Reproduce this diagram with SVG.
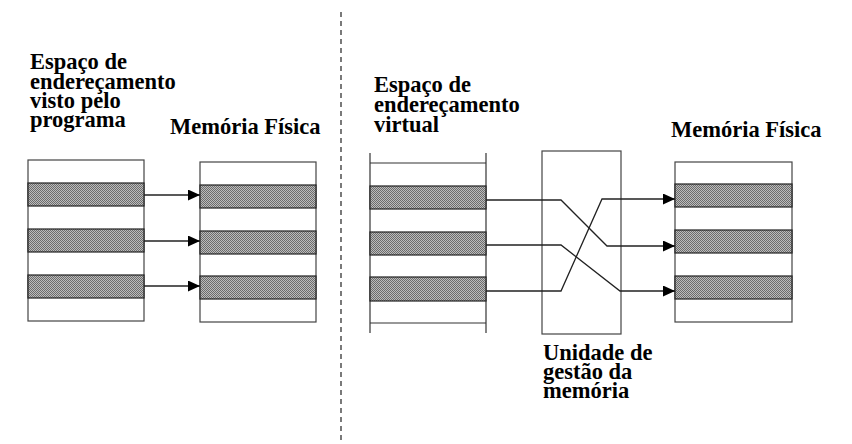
<svg xmlns="http://www.w3.org/2000/svg" width="852" height="444" viewBox="0 0 852 444">
<style>
.t{font-family:'Liberation Serif','Times New Roman','DejaVu Serif','Noto Serif',serif;font-weight:700;font-size:22.5px;fill:#000}
.box{fill:#fff;stroke:#444;stroke-width:1.2}
.band{fill:url(#dots);stroke:#222;stroke-width:1.2}
.ln{stroke:#333;stroke-width:1.2;fill:none}
.conn{stroke:#222;stroke-width:1.3;fill:none}
</style>
<defs>
<pattern id="dots" width="2" height="2" patternUnits="userSpaceOnUse">
<rect width="2" height="2" fill="#bcbcbc"/>
<rect width="1" height="1" fill="#6c6c6c"/>
<rect x="1" y="1" width="1" height="1" fill="#6c6c6c"/>
</pattern>
<marker id="arr" markerUnits="userSpaceOnUse" markerWidth="13" markerHeight="12" refX="12" refY="5.5" orient="auto">
<path d="M0,0 L12,5.5 L0,11 z" fill="#000"/>
</marker>
</defs>
<rect width="852" height="444" fill="#fff"/>
<line x1="341" y1="12" x2="341" y2="444" stroke="#333" stroke-width="1.3" stroke-dasharray="5,4"/>

<g id="label-programa">
<text class="t" x="30" y="69">Espaço de</text>
<text class="t" x="30" y="88.5">endereçamento</text>
<text class="t" x="30" y="108">visto pelo</text>
<text class="t" x="30" y="127">programa</text>
</g>
<g id="label-memoria-1"><text class="t" x="170" y="134">Memória Física</text></g>
<g id="label-virtual">
<text class="t" x="374" y="92">Espaço de</text>
<text class="t" x="374" y="112">endereçamento</text>
<text class="t" x="374" y="132">virtual</text>
</g>
<g id="label-memoria-2"><text class="t" x="671" y="136.5">Memória Física</text></g>
<g id="label-mmu">
<text class="t" x="543" y="360">Unidade de</text>
<text class="t" x="543" y="379">gestão da</text>
<text class="t" x="543" y="398">memória</text>
</g>

<g id="espaco-programa">
<rect class="box" x="28" y="160" width="116" height="161"/>
<rect class="band" x="28" y="183" width="116" height="23"/>
<rect class="band" x="28" y="229" width="116" height="23"/>
<rect class="band" x="28" y="275" width="116" height="23"/>
</g>
<g id="memoria-fisica-1">
<rect class="box" x="200" y="162" width="116" height="160"/>
<rect class="band" x="200" y="185" width="116" height="23"/>
<rect class="band" x="200" y="231" width="116" height="23"/>
<rect class="band" x="200" y="276" width="116" height="23"/>
</g>
<g id="espaco-virtual">
<rect x="370" y="163" width="116" height="160" fill="#fff"/>
<line class="ln" x1="370" y1="153" x2="370" y2="333"/>
<line class="ln" x1="486" y1="153" x2="486" y2="333"/>
<line class="ln" x1="370" y1="163" x2="486" y2="163"/>
<line class="ln" x1="370" y1="323" x2="486" y2="323"/>
<rect class="band" x="370" y="186" width="116" height="23"/>
<rect class="band" x="370" y="232" width="116" height="23"/>
<rect class="band" x="370" y="277" width="116" height="24"/>
</g>
<g id="mmu">
<rect class="box" x="542" y="151" width="79" height="183"/>
</g>
<g id="memoria-fisica-2">
<rect class="box" x="675" y="162" width="117" height="160"/>
<rect class="band" x="675" y="184" width="117" height="23"/>
<rect class="band" x="675" y="230" width="117" height="23"/>
<rect class="band" x="675" y="276" width="117" height="23"/>
</g>

<g id="connectors">
<line class="conn" x1="144" y1="195" x2="200" y2="195" marker-end="url(#arr)"/>
<line class="conn" x1="144" y1="241" x2="200" y2="241" marker-end="url(#arr)"/>
<line class="conn" x1="144" y1="286" x2="200" y2="286" marker-end="url(#arr)"/>
<path class="conn" d="M486,200 H561 L607,246 H675" marker-end="url(#arr)"/>
<path class="conn" d="M486,245 H561 L620,291 H675" marker-end="url(#arr)"/>
<path class="conn" d="M486,291 H561 L602,199 H675" marker-end="url(#arr)"/>
</g>
</svg>
